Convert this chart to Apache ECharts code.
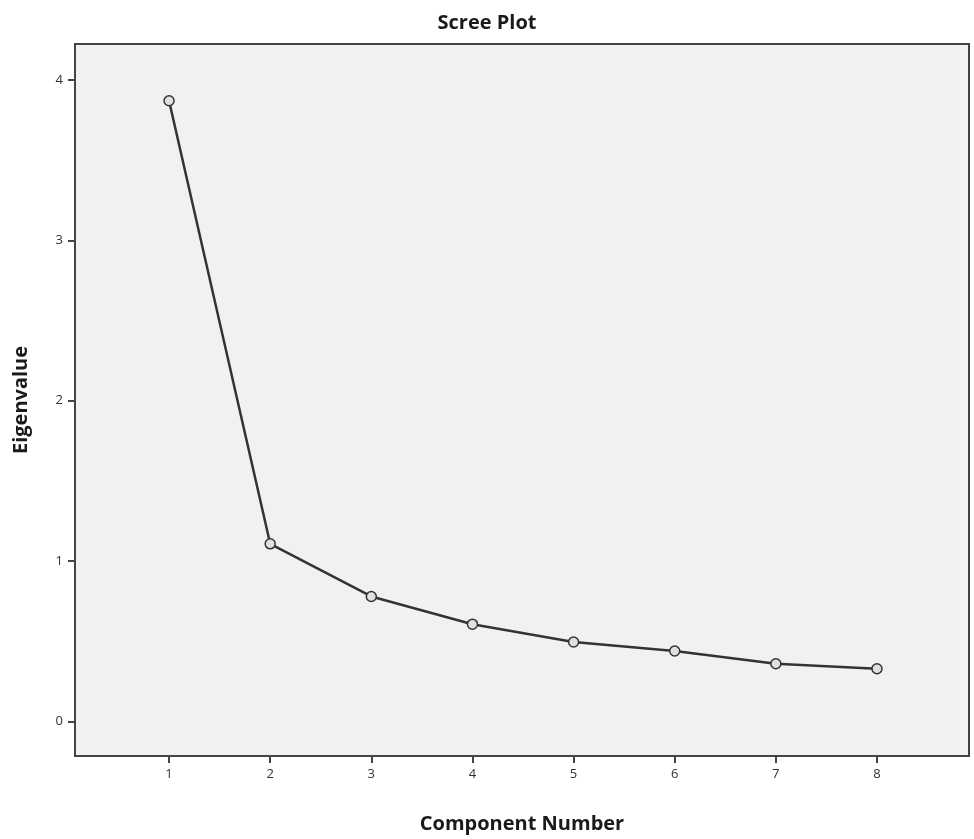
<!DOCTYPE html>
<html>
<head>
<meta charset="utf-8">
<script src="https://cdn.jsdelivr.net/npm/echarts@6/dist/echarts.min.js"></script>
<style>html,body{margin:0;padding:0;background:#fff}#c{width:974px;height:839px}</style>
</head>
<body>
<div id="c"></div>
<script>
const components = [1, 2, 3, 4, 5, 6, 7, 8];
const eigenvalues = [3.87, 1.107, 0.779, 0.606, 0.495, 0.439, 0.359, 0.328];
const yTicks = [0, 1, 2, 3, 4];
const xTicks = [1, 2, 3, 4, 5, 6, 7, 8];

const chart = echarts.init(document.getElementById('c'));
const fontFam = '"Open Sans", "DejaVu Sans", sans-serif';
chart.setOption({
  animation: false,
  title: {
    text: 'Scree Plot', left: 'center', top: 8,
    textStyle: { fontFamily: fontFam, fontSize: 20, fontWeight: 'bold', color: '#1a1a1a' }
  },
  grid: {
    left: 75, right: 5, top: 44, bottom: 77,
    show: true, backgroundColor: '#f1f1f1', borderColor: '#444', borderWidth: 2
  },
  xAxis: {
    type: 'value', min: 0.07, max: 8.91,
    name: 'Component Number', nameLocation: 'middle', nameGap: 58,
    nameTextStyle: { fontFamily: fontFam, fontSize: 20, fontWeight: 'bold', color: '#1a1a1a' },
    axisLine: { show: true, onZero: false, lineStyle: { color: '#444', width: 2 } },
    axisTick: { show: true, inside: false, length: 7, customValues: xTicks, lineStyle: { color: '#444', width: 2 } },
    axisLabel: { customValues: xTicks, margin: 12, fontFamily: fontFam, fontSize: 13, color: '#333' },
    splitLine: { show: false }
  },
  yAxis: {
    type: 'value', min: -0.216, max: 4.224,
    name: 'Eigenvalue', nameLocation: 'middle', nameGap: 44, nameRotate: 90,
    nameTextStyle: { fontFamily: fontFam, fontSize: 20, fontWeight: 'bold', color: '#1a1a1a' },
    axisLine: { show: true, onZero: false, lineStyle: { color: '#444', width: 2 } },
    axisTick: { show: true, inside: false, length: 7, customValues: yTicks, lineStyle: { color: '#444', width: 2 } },
    axisLabel: { customValues: yTicks, margin: 12, fontFamily: fontFam, fontSize: 13, color: '#333' },
    splitLine: { show: false }
  },
  series: [{
    type: 'line',
    data: components.map((c, i) => [c, eigenvalues[i]]),
    symbol: 'circle', symbolSize: 10,
    lineStyle: { color: '#333', width: 2.5 },
    itemStyle: { color: '#e0e0e0', borderColor: '#333', borderWidth: 1.5 }
  }]
});
</script>
</body>
</html>
